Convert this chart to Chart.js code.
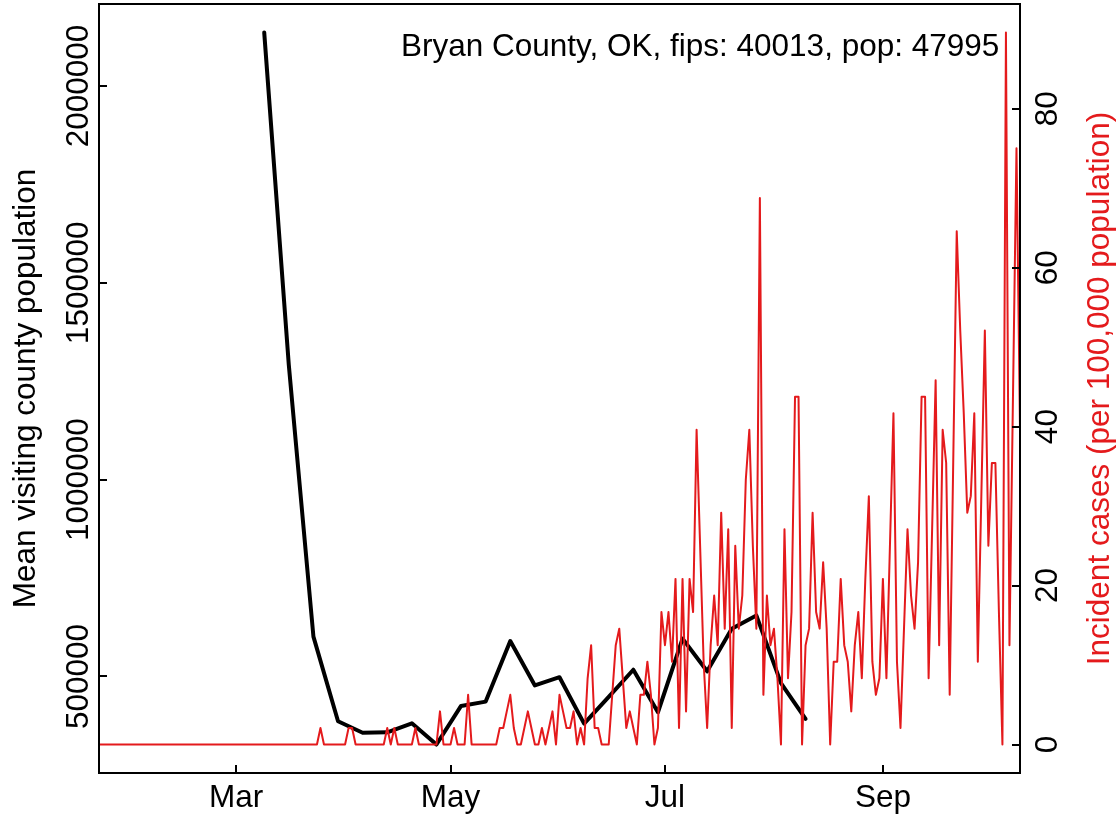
<!DOCTYPE html>
<html>
<head>
<meta charset="utf-8">
<script src="https://cdn.jsdelivr.net/npm/chart.js@4.4.1/dist/chart.umd.min.js"></script>
<style>
  html, body { margin: 0; padding: 0; background: #fff; }
  canvas { display: block; }
</style>
</head>
<body>
<canvas id="mobilityChart" width="1119" height="817"></canvas>
<script>
// 주간 평균 방문 인구 (검은 선)
const visitDates = [
    "2020-03-09", "2020-03-16", "2020-03-23", "2020-03-30", "2020-04-06", "2020-04-13",
    "2020-04-20", "2020-04-27", "2020-05-04", "2020-05-11", "2020-05-18", "2020-05-25",
    "2020-06-01", "2020-06-08", "2020-06-15", "2020-06-22", "2020-06-29", "2020-07-06",
    "2020-07-13", "2020-07-20", "2020-07-27", "2020-08-03", "2020-08-10",
];
const visitValues = [
    2136000, 1291000, 601000, 386000, 357000, 358000,
    381000, 327000, 425000, 436000, 590000, 477000,
    498000, 380000, 448000, 517000, 409000, 596000,
    513000, 621000, 655000, 483000, 392000,
];

// 일별 신규 확진 (인구 10만명당, 빨간 선) - 2020-01-22부터
const caseStart = "2020-01-22";
const caseValues = [
    0, 0, 0, 0, 0, 0, 0, 0, 0, 0, 0, 0, 0, 0, 0, 0, 0, 0, 0, 0,
    0, 0, 0, 0, 0, 0, 0, 0, 0, 0, 0, 0, 0, 0, 0, 0, 0, 0, 0, 0,
    0, 0, 0, 0, 0, 0, 0, 0, 0, 0, 0, 0, 0, 0, 0, 0, 0, 0, 0, 0,
    0, 0, 0, 2.08, 0, 0, 0, 0, 0, 0, 0, 2.08, 2.08,
    0, 0, 0, 0, 0, 0, 0, 0, 0, 2.08, 0, 2.08,
    0, 0, 0, 0, 0, 2.08, 0, 0, 0, 0, 0, 0, 4.17,
    0, 0, 0, 2.08, 0, 0, 0, 6.25, 0, 0, 0, 0, 0, 0, 0, 0,
    2.08, 2.08, 4.17, 6.25, 2.08, 0, 0, 2.08, 4.17, 2.08,
    0, 0, 2.08, 0, 2.08, 4.17, 0, 6.25, 4.17, 2.08,
    2.08, 4.17, 0, 2.08, 0, 8.33, 12.5, 2.08, 2.08, 0,
    0, 0, 6.25, 12.5, 14.58, 8.33, 2.08, 4.17, 2.08, 0,
    6.25, 6.25, 10.42, 6.25, 0, 2.08, 16.67, 12.5, 16.67, 10.42,
    20.84, 2.08, 20.84, 4.17, 20.84, 16.67, 39.59, 25, 10.42, 2.08,
    12.5, 18.75, 12.5, 29.17, 14.58, 27.09, 2.08, 25, 14.58, 18.75,
    33.34, 39.59, 25, 14.58, 68.76, 6.25, 18.75, 12.5, 14.58, 8.33,
    0, 27.09, 8.33, 16.67, 43.75, 43.75, 0, 12.5, 14.58, 29.17,
    16.67, 14.58, 22.92, 14.58, 0, 10.42, 10.42, 20.84, 12.5, 10.42,
    4.17, 12.5, 16.67, 8.33, 20.84, 31.25, 10.42, 6.25, 8.33, 20.84,
    8.33, 25, 41.67, 10.42, 2.08, 14.58, 27.09, 18.75, 14.58, 22.92,
    43.75, 43.75, 8.33, 27.09, 45.84, 12.5, 39.59, 35.42, 6.25, 35.42,
    64.59, 52.09, 41.67, 29.17, 31.25, 41.67, 10.42, 31.25, 52.09, 25,
    35.42, 35.42, 16.67, 0, 89.59, 12.5, 43.75, 75.01, 39.59,
];

// 축 눈금
const monthTickDates = ["2020-03-01", "2020-05-01", "2020-07-01", "2020-09-01"];
const monthTickLabels = ["Mar", "May", "Jul", "Sep"];
const visitTicks = [500000, 1000000, 1500000, 2000000];
const caseTicks = [0, 20, 40, 60, 80];

const countyLabel = "Bryan County, OK, fips: 40013, pop: 47995";
const leftTitle = "Mean visiting county population";
const rightTitle = "Incident cases (per 100,000 population)";

const RED = "#E41A1C";
const FONT = "'Liberation Sans', Arial, Helvetica, sans-serif";
const FONT_SIZE = 31.5;

// 날짜 -> 2020년 1월 1일부터의 일수
const dayOf = (s) => Math.round((Date.parse(s) - Date.parse("2020-01-01")) / 864e5);

const casePoints = caseValues.map((v, i) => ({ x: dayOf(caseStart) + i, y: v }));
const visitPoints = visitDates.map((d, i) => ({ x: dayOf(d), y: visitValues[i] }));

// R 기본 축 범위 (4% 여백)
function rRange(values) {
    const lo = Math.min(...values), hi = Math.max(...values);
    const pad = (hi - lo) * 0.04;
    return [lo - pad, hi + pad];
}
const [visitMin, visitMax] = rRange(visitValues);
const [caseMin, caseMax] = rRange(caseValues);
const xMin = dayOf(caseStart);
const xMax = dayOf(caseStart) + caseValues.length - 1;

// 축 테두리, 눈금, 회전 라벨 그리기
const rAxesPlugin = {
    id: "rAxes",
    afterDraw(chart) {
        const { ctx, chartArea: a, scales } = chart;
        ctx.save();
        ctx.strokeStyle = "#000";
        ctx.lineWidth = 2;
        ctx.strokeRect(a.left, a.top, a.right - a.left, a.bottom - a.top);

        ctx.beginPath();
        scales.x.ticks.forEach((t) => {
            const x = Math.round(scales.x.getPixelForValue(t.value));
            ctx.moveTo(x, a.bottom);
            ctx.lineTo(x, a.bottom - 8);
        });
        scales.y.ticks.forEach((t) => {
            const y = Math.round(scales.y.getPixelForValue(t.value));
            ctx.moveTo(a.left, y);
            ctx.lineTo(a.left + 8, y);
        });
        scales.y1.ticks.forEach((t) => {
            const y = Math.round(scales.y1.getPixelForValue(t.value));
            ctx.moveTo(a.right, y);
            ctx.lineTo(a.right - 8, y);
        });
        ctx.stroke();

        ctx.font = FONT_SIZE + "px " + FONT;
        ctx.textAlign = "center";
        ctx.textBaseline = "alphabetic";

        const vertical = (text, x, y, color) => {
            ctx.save();
            ctx.translate(x, y);
            ctx.rotate(-Math.PI / 2);
            ctx.fillStyle = color;
            ctx.fillText(text, 0, 0);
            ctx.restore();
        };

        scales.y.ticks.forEach((t) => {
            vertical(String(t.value), 88, scales.y.getPixelForValue(t.value), "#000");
        });
        scales.y1.ticks.forEach((t) => {
            vertical(String(t.value), 1057, scales.y1.getPixelForValue(t.value), "#000");
        });

        const midY = (a.top + a.bottom) / 2;
        vertical(leftTitle, 35, midY, "#000");
        vertical(rightTitle, 1109, midY, RED);

        ctx.textAlign = "left";
        ctx.fillStyle = "#000";
        ctx.fillText(countyLabel, 401, 56);
        ctx.restore();
    },
};

const ctx = document.getElementById("mobilityChart").getContext("2d");
new Chart(ctx, {
    type: "line",
    data: {
        datasets: [
            {
                label: "cases",
                data: casePoints,
                yAxisID: "y1",
                borderColor: RED,
                borderWidth: 2,
                pointRadius: 0,
                tension: 0,
                borderJoinStyle: "round",
                fill: false,
            },
            {
                label: "visits",
                data: visitPoints,
                yAxisID: "y",
                borderColor: "#000",
                borderWidth: 4,
                pointRadius: 0,
                tension: 0,
                borderJoinStyle: "round",
                borderCapStyle: "round",
                fill: false,
            },
        ],
    },
    options: {
        responsive: false,
        animation: false,
        devicePixelRatio: 1,
        layout: { padding: { top: 4 } },
        plugins: {
            legend: { display: false },
            tooltip: { enabled: false },
        },
        scales: {
            x: {
                type: "linear",
                min: xMin,
                max: xMax,
                afterBuildTicks: (scale) => {
                    scale.ticks = monthTickDates.map((d) => ({ value: dayOf(d) }));
                },
                afterFit: (scale) => { scale.height = 44; },
                ticks: {
                    autoSkip: false,
                    maxRotation: 0,
                    padding: 6,
                    color: "#000",
                    font: { family: FONT, size: FONT_SIZE },
                    callback: (v) => monthTickLabels[monthTickDates.map(dayOf).indexOf(v)] || "",
                },
                grid: { display: false, drawTicks: false },
                border: { display: false },
            },
            y: {
                position: "left",
                min: visitMin,
                max: visitMax,
                afterBuildTicks: (scale) => {
                    scale.ticks = visitTicks.map((v) => ({ value: v }));
                },
                afterFit: (scale) => { scale.width = 99; },
                ticks: { display: false },
                grid: { display: false, drawTicks: false },
                border: { display: false },
            },
            y1: {
                position: "right",
                min: caseMin,
                max: caseMax,
                afterBuildTicks: (scale) => {
                    scale.ticks = caseTicks.map((v) => ({ value: v }));
                },
                afterFit: (scale) => { scale.width = 99; },
                ticks: { display: false },
                grid: { display: false, drawTicks: false },
                border: { display: false },
            },
        },
    },
    plugins: [rAxesPlugin],
});
</script>
</body>
</html>
